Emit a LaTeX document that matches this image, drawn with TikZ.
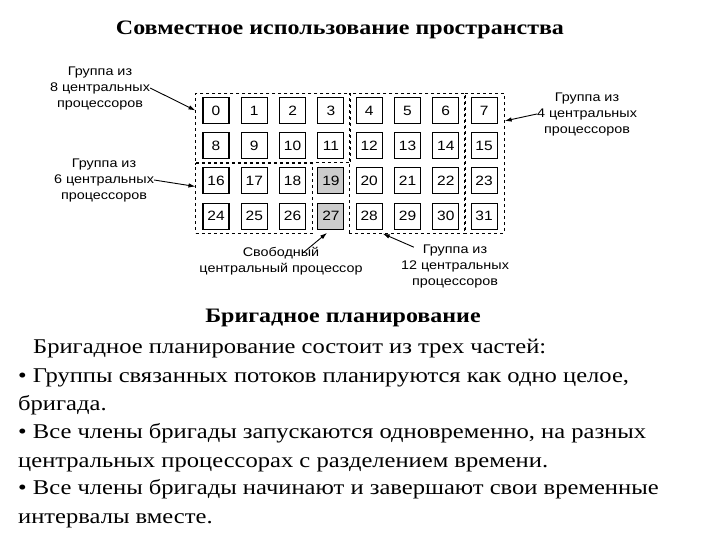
\documentclass[tikz,border=0pt]{standalone}
\usepackage{fontspec}
\setmainfont{Liberation Serif}[FakeStretch=1.17]
\setsansfont{Liberation Sans}[FakeStretch=1.15]
\usetikzlibrary{arrows.meta, calc, fit, positioning}
\tikzset{
  cpu/.style={draw, line width=1.1pt, minimum size=26pt, inner sep=0pt, text height=9.5pt, text depth=0pt, font=\sffamily\fontsize{13.5}{13.5}\selectfont},
  freecpu/.style={cpu, fill=black!20},
  group/.style={draw, dashed, line width=1pt, inner xsep=6.5pt, inner ysep=3.5pt},
  lbl/.style={align=center, inner sep=0pt, font=\sffamily\fontsize{12.5}{16}\selectfont},
  pointer/.style={-{Latex[length=7pt, width=4.5pt]}, line width=0.9pt},
  heading/.style={font=\bfseries\fontsize{20.5}{20.5}\selectfont},
  body/.style={anchor=base west, inner sep=0pt, font=\fontsize{21}{21}\selectfont}
}

\begin{document}
\begin{tikzpicture}[x=1pt, y=-1pt]
            \useasboundingbox (0,0) rectangle (720,540);

            \node[heading] (title) at (340, 30) {Совместное использование пространства};

            % processors
            \foreach \n in {0,...,31} {
                \pgfmathtruncatemacro\col{mod(\n,8)}
                \pgfmathtruncatemacro\row{div(\n,8)}
                \ifnum\n=19 \def\kind{freecpu}\else\ifnum\n=27 \def\kind{freecpu}\else\def\kind{cpu}\fi\fi
                \node[\kind] (c\n) at (216+38.3*\col, 110.5+35.2*\row) {\n};
            }

            % groups
            \node[group, fit=(c0)(c11)] (g8) {};
            \node[group, fit=(c4)(c30)] (g12) {};
            \node[group, fit=(c7)(c31)] (g4) {};
            \node[group, fit=(c16)(c26)] (g6) {};

            \node[lbl] (l8) at (100, 88) {Группа из\\8 центральных\\процессоров};
            \node[lbl] (l6) at (104, 180) {Группа из\\6 центральных\\процессоров};
            \node[lbl] (l4) at (587, 114) {Группа из\\4 центральных\\процессоров};
            \node[lbl] (lf) at (281, 261) {Свободный\\центральный процессор};
            \node[lbl] (l12) at (455, 266) {Группа из\\12 центральных\\процессоров};

            \draw[pointer] (l8.east) -- (g8.west |- c0);
            \draw[pointer] (l6.east) -- ($(g6.west)+(0,-12)$);
            \draw[pointer] (l4.west) -- ($(g4.north east)+(0,28)$);
            \draw[pointer, shorten >=5pt] ($(lf.north)+(22,6)$) -- (c27.south);
            \draw[pointer] ($(l12.north west)+(13,3)$) -- (g12.south -| c28.east);

            % text
            \node[heading] (sub) at (343, 318) {Бригадное планирование};
            \node[body] (b1) at (33, 353) {Бригадное планирование состоит из трех частей:};
            \node[body] (b2) at (18, 382) {• Группы связанных потоков планируются как одно целое,};
            \node[body] (b3) at (18, 410) {бригада.};
            \node[body] (b4) at (18, 438) {• Все члены бригады запускаются одновременно, на разных};
            \node[body] (b5) at (18, 467) {центральных процессорах с разделением времени.};
            \node[body] (b6) at (18, 494) {• Все члены бригады начинают и завершают свои временные};
            \node[body] (b7) at (18, 523) {интервалы вместе.};
        \end{tikzpicture}
\end{document}
